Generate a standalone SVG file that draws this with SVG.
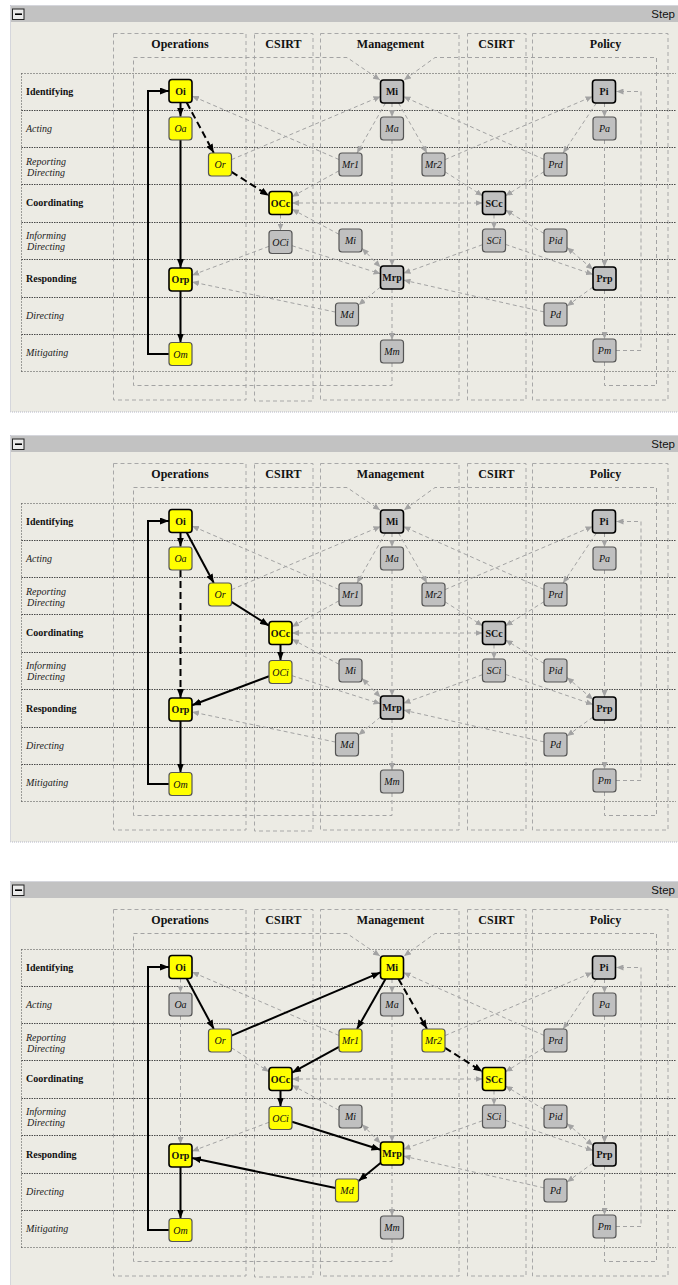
<svg xmlns="http://www.w3.org/2000/svg" width="678" height="1285" viewBox="0 0 678 1285">
<style>
.bg{fill:#ecebe4;stroke:#b4b6c6;stroke-dasharray:1,1}
.bar{fill:#c2c2c2}
.mbox{fill:#ebebeb;stroke:#222;stroke-width:1}
.minus{stroke:#000;stroke-width:1.6}
.step{font:11.5px "Liberation Sans",sans-serif;text-anchor:end;fill:#111}
.col{fill:none;stroke:#a8a8a8;stroke-dasharray:4,3}
.gl{fill:none;stroke:#4a4a4a;stroke-dasharray:1.5,1}
.go{fill:none;stroke:#4a4a4a;stroke-dasharray:1,2}
.hdr{font:bold 12px "Liberation Serif",serif;text-anchor:middle;fill:#111}
.rl{font:bold 10px "Liberation Serif",serif;fill:#111}
.rli{font:italic 10px "Liberation Serif",serif;fill:#222}
.ge{fill:none;stroke:#a3a3a3;stroke-dasharray:4,3;marker-end:url(#ag)}
.gb{marker-start:url(#ag)}
.be{fill:none;stroke:#000;stroke-width:2;marker-end:url(#ab)}
.bd{stroke-dasharray:7,4}
.n text{font-size:10px;font-family:"Liberation Serif",serif;text-anchor:middle;fill:#111}
.nb rect{stroke:#000;stroke-width:1.6}
.nb text{font-weight:bold}
.ni rect{stroke:#555;stroke-width:1.2}
.ni text{font-style:italic}
.ny rect{fill:#ffff00}
.ng rect{fill:#c0c0c0}
</style>
<defs>
<marker id="ag" viewBox="0 0 7 6" markerWidth="7" markerHeight="6" refX="7" refY="3" orient="auto-start-reverse" markerUnits="userSpaceOnUse"><path d="M0,0 L7,3 L0,6 z" fill="#a3a3a3"/></marker>
<marker id="ab" viewBox="0 0 9 7" markerWidth="9" markerHeight="7" refX="9" refY="3.5" orient="auto" markerUnits="userSpaceOnUse"><path d="M0,0 L9,3.5 L0,7 z" fill="#000"/></marker>
</defs>
<rect width="678" height="1285" fill="#fff"/>

<!-- ================= PANEL 1 ================= -->
<g id="panel1">
<g id="p1-frame">
<rect class="bg" x="10.5" y="5.5" width="680" height="406.5"/>
<rect class="bar" x="11" y="6" width="680" height="16"/>
<rect class="mbox" x="12.5" y="9" width="11.5" height="10.5"/>
<line class="minus" x1="15" y1="14.2" x2="22" y2="14.2"/>
<text class="step" x="675" y="17.5">Step</text>
<rect class="col" x="113.5" y="33.5" width="132.5" height="366.5"/>
<rect class="col" x="254.5" y="33.5" width="58.5" height="367.5"/>
<rect class="col" x="320.5" y="33.5" width="138.5" height="366.5"/>
<rect class="col" x="467.5" y="33.5" width="58.5" height="366.5"/>
<rect class="col" x="532.5" y="33.5" width="135.5" height="366.5"/>
<text class="hdr" x="180" y="48">Operations</text>
<text class="hdr" x="283.5" y="48">CSIRT</text>
<text class="hdr" x="390.5" y="48">Management</text>
<text class="hdr" x="496.5" y="48">CSIRT</text>
<text class="hdr" x="605.5" y="48">Policy</text>
<path class="go" d="M21.5,73.5 H676 M21.5,371.5 H676 M21.5,73.5 V371.5"/>
<path class="gl" d="M21.5,110.5 H676 M21.5,147.5 H676 M21.5,184.5 H676 M21.5,222.5 H676 M21.5,259.5 H676 M21.5,297.5 H676 M21.5,334.5 H676"/>
<text class="rl" x="26" y="95">Identifying</text>
<text class="rli" x="26" y="132">Acting</text>
<text class="rli" x="26" y="164.5">Reporting</text>
<text class="rli" x="27" y="175.5">Directing</text>
<text class="rl" x="26" y="206">Coordinating</text>
<text class="rli" x="26" y="238.5">Informing</text>
<text class="rli" x="27" y="249.5">Directing</text>
<text class="rl" x="26" y="281.5">Responding</text>
<text class="rli" x="26" y="318.5">Directing</text>
<text class="rli" x="26" y="355.5">Mitigating</text>
</g>
<g id="p1-connectors">
<path class="ge" d="M339,159.5 L192,96"/>
<path class="ge" d="M231.5,159.6 L380.5,96.4"/>
<path class="ge" d="M385.5,103 L357,153"/>
<path class="ge" d="M392,103 V117"/>
<path class="ge" d="M398.5,103 L427,153"/>
<path class="ge" d="M339,170.8 L292,196.7"/>
<path class="ge" d="M445,171.8 L482.5,195.7"/>
<path class="ge" d="M445,159.6 L592.5,96.4"/>
<path class="ge" d="M544,159.4 L403.5,96.6"/>
<path class="ge" d="M596.4,103 L563.1,153"/>
<path class="ge" d="M604.5,103 V117"/>
<path class="ge" d="M544,171.7 L505.5,195.8"/>
<path class="ge gb" d="M292,203 H482.5"/>
<path class="ge" d="M280.5,214.5 V230.5"/>
<path class="ge" d="M494,214.5 V229"/>
<path class="ge" d="M544,233.5 L505.5,210"/>
<path class="ge" d="M339,234.3 L292,209.2"/>
<path class="ge gb" d="M362,248.2 L380.5,267.3"/>
<path class="ge" d="M269,246.3 L192,275.2"/>
<path class="ge" d="M292,245.7 L380.5,273.8"/>
<path class="ge" d="M482.5,244.7 L403.5,273.3"/>
<path class="ge" d="M505.5,244.4 L593,274.5"/>
<path class="ge gb" d="M567,247.4 L593,269.6"/>
<path class="ge" d="M335.5,312.1 L192,281.9"/>
<path class="ge" d="M380.5,287 L358.5,305"/>
<path class="ge" d="M544,311.9 L403.5,280.1"/>
<path class="ge" d="M593,287 L567,306"/>
<path class="ge" d="M604.5,290 V339"/>
<path class="ge" d="M392,140 V266"/>
<path class="ge" d="M392,289 V340"/>
<path class="ge" d="M604.5,140 V267"/>
<path class="ge" d="M616,350.5 H641 V91.5 H616.5"/>
<path class="ge" d="M604.5,362 V385.5 H656.5 V57.5 H435 L404,80"/>
<path class="ge" d="M392,363 V385.5 H133.5 V57.5 H347 L380,80"/>
<path class="be" d="M180.5,102.5 V116.5"/>
<path class="be bd" d="M186.7,102.5 L213.8,153"/>
<path class="be bd" d="M231.5,171.8 L269,195.7"/>
<path class="be" d="M180.5,140 V268"/>
<path class="be" d="M180.5,291 V342.5"/>
<path class="be" d="M169,354 H148 V91 H169"/>
</g>
<g id="p1-Oi" class="n nb ny"><rect x="169" y="79.5" width="23" height="23" rx="3"/><text x="180.5" y="94.5">Oi</text></g>
<g id="p1-Oa" class="n ni ny"><rect x="169" y="117" width="23" height="23" rx="3"/><text x="180.5" y="132">Oa</text></g>
<g id="p1-Or" class="n ni ny"><rect x="208.5" y="153" width="23" height="23" rx="3"/><text x="220" y="168">Or</text></g>
<g id="p1-OCc" class="n nb ny"><rect x="269" y="191.5" width="23" height="23" rx="3"/><text x="280.5" y="206.5">OCc</text></g>
<g id="p1-OCi" class="n ni ng"><rect x="269" y="230.5" width="23" height="23" rx="3"/><text x="280.5" y="245.5">OCi</text></g>
<g id="p1-Orp" class="n nb ny"><rect x="169" y="268" width="23" height="23" rx="3"/><text x="180.5" y="283">Orp</text></g>
<g id="p1-Om" class="n ni ny"><rect x="169" y="342.5" width="23" height="23" rx="3"/><text x="180.5" y="357.5">Om</text></g>
<g id="p1-Mi" class="n nb ng"><rect x="380.5" y="80" width="23" height="23" rx="3"/><text x="392" y="95">Mi</text></g>
<g id="p1-Ma" class="n ni ng"><rect x="380.5" y="117" width="23" height="23" rx="3"/><text x="392" y="132">Ma</text></g>
<g id="p1-Mr1" class="n ni ng"><rect x="339" y="153" width="23" height="23" rx="3"/><text x="350.5" y="168">Mr1</text></g>
<g id="p1-Mr2" class="n ni ng"><rect x="422" y="153" width="23" height="23" rx="3"/><text x="433.5" y="168">Mr2</text></g>
<g id="p1-SCc" class="n nb ng"><rect x="482.5" y="191.5" width="23" height="23" rx="3"/><text x="494" y="206.5">SCc</text></g>
<g id="p1-Mi2" class="n ni ng"><rect x="339" y="229" width="23" height="23" rx="3"/><text x="350.5" y="244">Mi</text></g>
<g id="p1-SCi" class="n ni ng"><rect x="482.5" y="229" width="23" height="23" rx="3"/><text x="494" y="244">SCi</text></g>
<g id="p1-Pid" class="n ni ng"><rect x="544" y="229" width="23" height="23" rx="3"/><text x="555.5" y="244">Pid</text></g>
<g id="p1-Mrp" class="n nb ng"><rect x="380.5" y="266" width="23" height="23" rx="3"/><text x="392" y="281">Mrp</text></g>
<g id="p1-Prp" class="n nb ng"><rect x="593" y="267" width="23" height="23" rx="3"/><text x="604.5" y="282">Prp</text></g>
<g id="p1-Md" class="n ni ng"><rect x="335.5" y="303" width="23" height="23" rx="3"/><text x="347" y="318">Md</text></g>
<g id="p1-Pd" class="n ni ng"><rect x="544" y="303" width="23" height="23" rx="3"/><text x="555.5" y="318">Pd</text></g>
<g id="p1-Mm" class="n ni ng"><rect x="380.5" y="340" width="23" height="23" rx="3"/><text x="392" y="355">Mm</text></g>
<g id="p1-Pm" class="n ni ng"><rect x="593" y="339" width="23" height="23" rx="3"/><text x="604.5" y="354">Pm</text></g>
<g id="p1-Pi" class="n nb ng"><rect x="592.5" y="80" width="23" height="23" rx="3"/><text x="604" y="95">Pi</text></g>
<g id="p1-Pa" class="n ni ng"><rect x="593" y="117" width="23" height="23" rx="3"/><text x="604.5" y="132">Pa</text></g>
<g id="p1-Prd" class="n ni ng"><rect x="544" y="153" width="23" height="23" rx="3"/><text x="555.5" y="168">Prd</text></g>
</g>

<!-- ================= PANEL 2 ================= -->
<g id="panel2" transform="translate(0,430)">
<g id="p2-frame">
<rect class="bg" x="10.5" y="5.5" width="680" height="406.5"/>
<rect class="bar" x="11" y="6" width="680" height="16"/>
<rect class="mbox" x="12.5" y="9" width="11.5" height="10.5"/>
<line class="minus" x1="15" y1="14.2" x2="22" y2="14.2"/>
<text class="step" x="675" y="17.5">Step</text>
<rect class="col" x="113.5" y="33.5" width="132.5" height="366.5"/>
<rect class="col" x="254.5" y="33.5" width="58.5" height="367.5"/>
<rect class="col" x="320.5" y="33.5" width="138.5" height="366.5"/>
<rect class="col" x="467.5" y="33.5" width="58.5" height="366.5"/>
<rect class="col" x="532.5" y="33.5" width="135.5" height="366.5"/>
<text class="hdr" x="180" y="48">Operations</text>
<text class="hdr" x="283.5" y="48">CSIRT</text>
<text class="hdr" x="390.5" y="48">Management</text>
<text class="hdr" x="496.5" y="48">CSIRT</text>
<text class="hdr" x="605.5" y="48">Policy</text>
<path class="go" d="M21.5,73.5 H676 M21.5,371.5 H676 M21.5,73.5 V371.5"/>
<path class="gl" d="M21.5,110.5 H676 M21.5,147.5 H676 M21.5,184.5 H676 M21.5,222.5 H676 M21.5,259.5 H676 M21.5,297.5 H676 M21.5,334.5 H676"/>
<text class="rl" x="26" y="95">Identifying</text>
<text class="rli" x="26" y="132">Acting</text>
<text class="rli" x="26" y="164.5">Reporting</text>
<text class="rli" x="27" y="175.5">Directing</text>
<text class="rl" x="26" y="206">Coordinating</text>
<text class="rli" x="26" y="238.5">Informing</text>
<text class="rli" x="27" y="249.5">Directing</text>
<text class="rl" x="26" y="281.5">Responding</text>
<text class="rli" x="26" y="318.5">Directing</text>
<text class="rli" x="26" y="355.5">Mitigating</text>
</g>
<g id="p2-connectors">
<path class="ge" d="M339,159.5 L192,96"/>
<path class="ge" d="M231.5,159.6 L380.5,96.4"/>
<path class="ge" d="M385.5,103 L357,153"/>
<path class="ge" d="M392,103 V117"/>
<path class="ge" d="M398.5,103 L427,153"/>
<path class="ge" d="M339,170.8 L292,196.7"/>
<path class="ge" d="M445,171.8 L482.5,195.7"/>
<path class="ge" d="M445,159.6 L592.5,96.4"/>
<path class="ge" d="M544,159.4 L403.5,96.6"/>
<path class="ge" d="M596.4,103 L563.1,153"/>
<path class="ge" d="M604.5,103 V117"/>
<path class="ge" d="M544,171.7 L505.5,195.8"/>
<path class="ge gb" d="M292,203 H482.5"/>
<path class="ge" d="M494,214.5 V229"/>
<path class="ge" d="M544,233.5 L505.5,210"/>
<path class="ge" d="M339,234.3 L292,209.2"/>
<path class="ge gb" d="M362,248.2 L380.5,267.3"/>
<path class="ge" d="M292,245.7 L380.5,273.8"/>
<path class="ge" d="M482.5,244.7 L403.5,273.3"/>
<path class="ge" d="M505.5,244.4 L593,274.5"/>
<path class="ge gb" d="M567,247.4 L593,269.6"/>
<path class="ge" d="M335.5,312.1 L192,281.9"/>
<path class="ge" d="M380.5,287 L358.5,305"/>
<path class="ge" d="M544,311.9 L403.5,280.1"/>
<path class="ge" d="M593,287 L567,306"/>
<path class="ge" d="M604.5,290 V339"/>
<path class="ge" d="M392,140 V266"/>
<path class="ge" d="M392,289 V340"/>
<path class="ge" d="M604.5,140 V267"/>
<path class="ge" d="M616,350.5 H641 V91.5 H616.5"/>
<path class="ge" d="M604.5,362 V385.5 H656.5 V57.5 H435 L404,80"/>
<path class="ge" d="M392,363 V385.5 H133.5 V57.5 H347 L380,80"/>
<path class="be" d="M180.5,102.5 V116.5"/>
<path class="be" d="M186.7,102.5 L213.8,153"/>
<path class="be" d="M231.5,171.8 L269,195.7"/>
<path class="be bd" d="M180.5,140 V268"/>
<path class="be" d="M280.5,214.5 V230.5"/>
<path class="be" d="M269,246.3 L192,275.2"/>
<path class="be" d="M180.5,291 V342.5"/>
<path class="be" d="M169,354 H148 V91 H169"/>
</g>
<g id="p2-Oi" class="n nb ny"><rect x="169" y="79.5" width="23" height="23" rx="3"/><text x="180.5" y="94.5">Oi</text></g>
<g id="p2-Oa" class="n ni ny"><rect x="169" y="117" width="23" height="23" rx="3"/><text x="180.5" y="132">Oa</text></g>
<g id="p2-Or" class="n ni ny"><rect x="208.5" y="153" width="23" height="23" rx="3"/><text x="220" y="168">Or</text></g>
<g id="p2-OCc" class="n nb ny"><rect x="269" y="191.5" width="23" height="23" rx="3"/><text x="280.5" y="206.5">OCc</text></g>
<g id="p2-OCi" class="n ni ny"><rect x="269" y="230.5" width="23" height="23" rx="3"/><text x="280.5" y="245.5">OCi</text></g>
<g id="p2-Orp" class="n nb ny"><rect x="169" y="268" width="23" height="23" rx="3"/><text x="180.5" y="283">Orp</text></g>
<g id="p2-Om" class="n ni ny"><rect x="169" y="342.5" width="23" height="23" rx="3"/><text x="180.5" y="357.5">Om</text></g>
<g id="p2-Mi" class="n nb ng"><rect x="380.5" y="80" width="23" height="23" rx="3"/><text x="392" y="95">Mi</text></g>
<g id="p2-Ma" class="n ni ng"><rect x="380.5" y="117" width="23" height="23" rx="3"/><text x="392" y="132">Ma</text></g>
<g id="p2-Mr1" class="n ni ng"><rect x="339" y="153" width="23" height="23" rx="3"/><text x="350.5" y="168">Mr1</text></g>
<g id="p2-Mr2" class="n ni ng"><rect x="422" y="153" width="23" height="23" rx="3"/><text x="433.5" y="168">Mr2</text></g>
<g id="p2-SCc" class="n nb ng"><rect x="482.5" y="191.5" width="23" height="23" rx="3"/><text x="494" y="206.5">SCc</text></g>
<g id="p2-Mi2" class="n ni ng"><rect x="339" y="229" width="23" height="23" rx="3"/><text x="350.5" y="244">Mi</text></g>
<g id="p2-SCi" class="n ni ng"><rect x="482.5" y="229" width="23" height="23" rx="3"/><text x="494" y="244">SCi</text></g>
<g id="p2-Pid" class="n ni ng"><rect x="544" y="229" width="23" height="23" rx="3"/><text x="555.5" y="244">Pid</text></g>
<g id="p2-Mrp" class="n nb ng"><rect x="380.5" y="266" width="23" height="23" rx="3"/><text x="392" y="281">Mrp</text></g>
<g id="p2-Prp" class="n nb ng"><rect x="593" y="267" width="23" height="23" rx="3"/><text x="604.5" y="282">Prp</text></g>
<g id="p2-Md" class="n ni ng"><rect x="335.5" y="303" width="23" height="23" rx="3"/><text x="347" y="318">Md</text></g>
<g id="p2-Pd" class="n ni ng"><rect x="544" y="303" width="23" height="23" rx="3"/><text x="555.5" y="318">Pd</text></g>
<g id="p2-Mm" class="n ni ng"><rect x="380.5" y="340" width="23" height="23" rx="3"/><text x="392" y="355">Mm</text></g>
<g id="p2-Pm" class="n ni ng"><rect x="593" y="339" width="23" height="23" rx="3"/><text x="604.5" y="354">Pm</text></g>
<g id="p2-Pi" class="n nb ng"><rect x="592.5" y="80" width="23" height="23" rx="3"/><text x="604" y="95">Pi</text></g>
<g id="p2-Pa" class="n ni ng"><rect x="593" y="117" width="23" height="23" rx="3"/><text x="604.5" y="132">Pa</text></g>
<g id="p2-Prd" class="n ni ng"><rect x="544" y="153" width="23" height="23" rx="3"/><text x="555.5" y="168">Prd</text></g>
</g>

<!-- ================= PANEL 3 ================= -->
<g id="panel3" transform="translate(0,876)">
<g id="p3-frame">
<rect class="bg" x="10.5" y="5.5" width="680" height="406.5"/>
<rect class="bar" x="11" y="6" width="680" height="16"/>
<rect class="mbox" x="12.5" y="9" width="11.5" height="10.5"/>
<line class="minus" x1="15" y1="14.2" x2="22" y2="14.2"/>
<text class="step" x="675" y="17.5">Step</text>
<rect class="col" x="113.5" y="33.5" width="132.5" height="366.5"/>
<rect class="col" x="254.5" y="33.5" width="58.5" height="367.5"/>
<rect class="col" x="320.5" y="33.5" width="138.5" height="366.5"/>
<rect class="col" x="467.5" y="33.5" width="58.5" height="366.5"/>
<rect class="col" x="532.5" y="33.5" width="135.5" height="366.5"/>
<text class="hdr" x="180" y="48">Operations</text>
<text class="hdr" x="283.5" y="48">CSIRT</text>
<text class="hdr" x="390.5" y="48">Management</text>
<text class="hdr" x="496.5" y="48">CSIRT</text>
<text class="hdr" x="605.5" y="48">Policy</text>
<path class="go" d="M21.5,73.5 H676 M21.5,371.5 H676 M21.5,73.5 V371.5"/>
<path class="gl" d="M21.5,110.5 H676 M21.5,147.5 H676 M21.5,184.5 H676 M21.5,222.5 H676 M21.5,259.5 H676 M21.5,297.5 H676 M21.5,334.5 H676"/>
<text class="rl" x="26" y="95">Identifying</text>
<text class="rli" x="26" y="132">Acting</text>
<text class="rli" x="26" y="164.5">Reporting</text>
<text class="rli" x="27" y="175.5">Directing</text>
<text class="rl" x="26" y="206">Coordinating</text>
<text class="rli" x="26" y="238.5">Informing</text>
<text class="rli" x="27" y="249.5">Directing</text>
<text class="rl" x="26" y="281.5">Responding</text>
<text class="rli" x="26" y="318.5">Directing</text>
<text class="rli" x="26" y="355.5">Mitigating</text>
</g>
<g id="p3-connectors">
<path class="ge" d="M180.5,102.5 V116.5"/>
<path class="ge" d="M231.5,171.8 L269,195.7"/>
<path class="ge" d="M180.5,140 V268"/>
<path class="ge" d="M269,246.3 L192,275.2"/>
<path class="ge" d="M339,159.5 L192,96"/>
<path class="ge" d="M392,103 V117"/>
<path class="ge" d="M445,159.6 L592.5,96.4"/>
<path class="ge" d="M544,159.4 L403.5,96.6"/>
<path class="ge" d="M596.4,103 L563.1,153"/>
<path class="ge" d="M604.5,103 V117"/>
<path class="ge" d="M544,171.7 L505.5,195.8"/>
<path class="ge gb" d="M292,203 H482.5"/>
<path class="ge" d="M494,214.5 V229"/>
<path class="ge" d="M544,233.5 L505.5,210"/>
<path class="ge" d="M339,234.3 L292,209.2"/>
<path class="ge gb" d="M362,248.2 L380.5,267.3"/>
<path class="ge" d="M482.5,244.7 L403.5,273.3"/>
<path class="ge" d="M505.5,244.4 L593,274.5"/>
<path class="ge gb" d="M567,247.4 L593,269.6"/>
<path class="ge" d="M544,311.9 L403.5,280.1"/>
<path class="ge" d="M593,287 L567,306"/>
<path class="ge" d="M604.5,290 V339"/>
<path class="ge" d="M392,140 V266"/>
<path class="ge" d="M392,289 V340"/>
<path class="ge" d="M604.5,140 V267"/>
<path class="ge" d="M616,350.5 H641 V91.5 H616.5"/>
<path class="ge" d="M604.5,362 V385.5 H656.5 V57.5 H435 L404,80"/>
<path class="ge" d="M392,363 V385.5 H133.5 V57.5 H347 L380,80"/>
<path class="be" d="M186.7,102.5 L213.8,153"/>
<path class="be" d="M231.5,159.6 L380.5,96.4"/>
<path class="be" d="M385.5,103 L357,153"/>
<path class="be bd" d="M398.5,103 L427,153"/>
<path class="be" d="M339,170.8 L292,196.7"/>
<path class="be bd" d="M445,171.8 L482.5,195.7"/>
<path class="be" d="M280.5,214.5 V230.5"/>
<path class="be" d="M292,245.7 L380.5,273.8"/>
<path class="be" d="M380.5,287 L358.5,305"/>
<path class="be" d="M335.5,312.1 L192,281.9"/>
<path class="be" d="M180.5,291 V342.5"/>
<path class="be" d="M169,354 H148 V91 H169"/>
</g>
<g id="p3-Oi" class="n nb ny"><rect x="169" y="79.5" width="23" height="23" rx="3"/><text x="180.5" y="94.5">Oi</text></g>
<g id="p3-Oa" class="n ni ng"><rect x="169" y="117" width="23" height="23" rx="3"/><text x="180.5" y="132">Oa</text></g>
<g id="p3-Or" class="n ni ny"><rect x="208.5" y="153" width="23" height="23" rx="3"/><text x="220" y="168">Or</text></g>
<g id="p3-OCc" class="n nb ny"><rect x="269" y="191.5" width="23" height="23" rx="3"/><text x="280.5" y="206.5">OCc</text></g>
<g id="p3-OCi" class="n ni ny"><rect x="269" y="230.5" width="23" height="23" rx="3"/><text x="280.5" y="245.5">OCi</text></g>
<g id="p3-Orp" class="n nb ny"><rect x="169" y="268" width="23" height="23" rx="3"/><text x="180.5" y="283">Orp</text></g>
<g id="p3-Om" class="n ni ny"><rect x="169" y="342.5" width="23" height="23" rx="3"/><text x="180.5" y="357.5">Om</text></g>
<g id="p3-Mi" class="n nb ny"><rect x="380.5" y="80" width="23" height="23" rx="3"/><text x="392" y="95">Mi</text></g>
<g id="p3-Ma" class="n ni ng"><rect x="380.5" y="117" width="23" height="23" rx="3"/><text x="392" y="132">Ma</text></g>
<g id="p3-Mr1" class="n ni ny"><rect x="339" y="153" width="23" height="23" rx="3"/><text x="350.5" y="168">Mr1</text></g>
<g id="p3-Mr2" class="n ni ny"><rect x="422" y="153" width="23" height="23" rx="3"/><text x="433.5" y="168">Mr2</text></g>
<g id="p3-SCc" class="n nb ny"><rect x="482.5" y="191.5" width="23" height="23" rx="3"/><text x="494" y="206.5">SCc</text></g>
<g id="p3-Mi2" class="n ni ng"><rect x="339" y="229" width="23" height="23" rx="3"/><text x="350.5" y="244">Mi</text></g>
<g id="p3-SCi" class="n ni ng"><rect x="482.5" y="229" width="23" height="23" rx="3"/><text x="494" y="244">SCi</text></g>
<g id="p3-Pid" class="n ni ng"><rect x="544" y="229" width="23" height="23" rx="3"/><text x="555.5" y="244">Pid</text></g>
<g id="p3-Mrp" class="n nb ny"><rect x="380.5" y="266" width="23" height="23" rx="3"/><text x="392" y="281">Mrp</text></g>
<g id="p3-Prp" class="n nb ng"><rect x="593" y="267" width="23" height="23" rx="3"/><text x="604.5" y="282">Prp</text></g>
<g id="p3-Md" class="n ni ny"><rect x="335.5" y="303" width="23" height="23" rx="3"/><text x="347" y="318">Md</text></g>
<g id="p3-Pd" class="n ni ng"><rect x="544" y="303" width="23" height="23" rx="3"/><text x="555.5" y="318">Pd</text></g>
<g id="p3-Mm" class="n ni ng"><rect x="380.5" y="340" width="23" height="23" rx="3"/><text x="392" y="355">Mm</text></g>
<g id="p3-Pm" class="n ni ng"><rect x="593" y="339" width="23" height="23" rx="3"/><text x="604.5" y="354">Pm</text></g>
<g id="p3-Pi" class="n nb ng"><rect x="592.5" y="80" width="23" height="23" rx="3"/><text x="604" y="95">Pi</text></g>
<g id="p3-Pa" class="n ni ng"><rect x="593" y="117" width="23" height="23" rx="3"/><text x="604.5" y="132">Pa</text></g>
<g id="p3-Prd" class="n ni ng"><rect x="544" y="153" width="23" height="23" rx="3"/><text x="555.5" y="168">Prd</text></g>
</g>
</svg>
